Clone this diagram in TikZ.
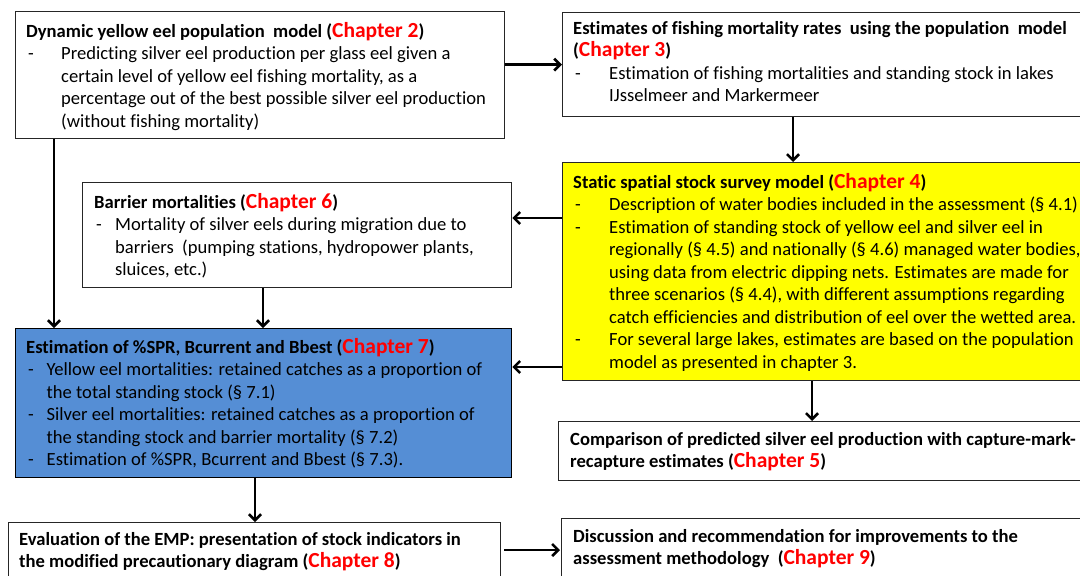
\documentclass[tikz,border=0pt]{standalone}
\usepackage{fontspec}
\setmainfont{Carlito}[Ligatures=NoCommon]
\usetikzlibrary{arrows.meta}
\definecolor{chapred}{HTML}{FF0000}
\definecolor{boxyellow}{HTML}{FFFF00}
\definecolor{boxblue}{HTML}{558ED5}
\newlength\ind
\newcommand\chap[1]{{\fontsize{21.5}{22.5}\selectfont\color{chapred}Chapter #1}}
\newcommand\itm[1]{\par\noindent\hangindent=\ind\hangafter=1\makebox[\ind][l]{\hspace{2pt}-}#1}
\newcommand\bxtext[3]{\parbox[t]{#1}{\fontsize{18.6}{22.5}\selectfont\raggedright\parindent0pt\setlength\ind{#2}#3}}
\tikzset{
  box/.style={draw=black!85, line width=1.3pt, anchor=north west, inner sep=0pt, fill=white},
  txt/.style={anchor=base west, inner sep=0pt},
  arr/.style={line width=2.6pt, -{Straight Barb[length=6pt,width=12pt]}},
}
\begin{document}
\begin{tikzpicture}[x=1pt,y=-1pt]
\useasboundingbox (0,0) rectangle (1080,576);
\clip (0,0) rectangle (1080,576);
\fill[white] (0,0) rectangle (1080,576);
% boxes
\node[box, minimum width=489.5pt, minimum height=127pt] (b1) at (14.5,11) {};
\node[box, minimum width=530pt, minimum height=104pt] (b2) at (562,12) {};
\node[box, fill=boxyellow, minimum width=530pt, minimum height=218pt] (b4) at (562,162) {};
\node[box, minimum width=429pt, minimum height=105pt] (b6) at (82,182) {};
\node[box, fill=boxblue, draw=black, minimum width=496.5pt, minimum height=149pt] (b7) at (14.5,328) {};
\node[box, minimum width=540pt, minimum height=59pt] (b5) at (558,421) {};
\node[box, minimum width=492pt, minimum height=70pt] (b8) at (8,522) {};
\node[box, minimum width=540pt, minimum height=70pt] (b9) at (561,518) {};
% texts
\node[txt] (t1) at (26,37) {\bxtext{600pt}{35pt}{\textbf{Dynamic yellow eel population\ \ model (\chap{2})}
\itm{Predicting silver eel production per glass eel given a\newline certain level of yellow eel fishing mortality, as a\newline percentage out of the best possible silver eel production\newline (without fishing mortality)}}};
\node[txt] (t2) at (573,34) {\bxtext{600pt}{36pt}{\textbf{Estimates of fishing mortality rates\ \ using the population\ \ model\newline (\chap{3})}
\itm{Estimation of fishing mortalities and standing stock in lakes\newline IJsselmeer and Markermeer}}};
\node[txt] (t4) at (573,188) {\bxtext{600pt}{36pt}{\textbf{Static spatial stock survey model (\chap{4})}
\itm{Description of water bodies included in the assessment (§ 4.1)}
\itm{Estimation of standing stock of yellow eel and silver eel in\newline regionally (§ 4.5) and nationally (§ 4.6) managed water bodies,\newline using data from electric dipping nets. Estimates are made for\newline three scenarios (§ 4.4), with different assumptions regarding\newline catch efficiencies and distribution of eel over the wetted area.}
\itm{For several large lakes, estimates are based on the population\newline model as presented in chapter 3.}}};
\node[txt] (t6) at (94,208) {\bxtext{600pt}{21pt}{\textbf{Barrier mortalities (\chap{6})}
\itm{Mortality of silver eels during migration due to\newline barriers\ \ (pumping stations, hydropower plants,\newline sluices, etc.)}}};
\node[txt] (t7) at (26,353) {\bxtext{600pt}{20.5pt}{\textbf{Estimation of \%SPR, Bcurrent and Bbest (\chap{7})}
\itm{Yellow eel mortalities: retained catches as a proportion of\newline the total standing stock (§ 7.1)}
\itm{Silver eel mortalities: retained catches as a proportion of\newline the standing stock and barrier mortality (§ 7.2)}
\itm{Estimation of \%SPR, Bcurrent and Bbest (§ 7.3).}}};
\node[txt] (t5) at (570,445) {\bxtext{600pt}{0pt}{\textbf{Comparison of predicted silver eel production with capture-mark-\newline recapture estimates (\chap{5})}}};
\node[txt] (t8) at (19,545) {\bxtext{600pt}{0pt}{\textbf{Evaluation of the EMP: presentation of stock indicators in\newline the modified precautionary diagram (\chap{8})}}};
\node[txt] (t9) at (573,542) {\bxtext{600pt}{0pt}{\textbf{Discussion and recommendation for improvements to the\newline assessment methodology\ \ (\chap{9})}}};
% connectors
\draw[arr] (b1.east |- b2.west) -- (b2.west);
\draw[arr] ([xshift=231pt]b2.south west) -- ([xshift=231pt]b2.south west |- b4.north);
\draw[arr] ([yshift=-56pt]b4.north west) -- ([yshift=-56pt]b4.north west -| b6.east);
\draw[arr] ([yshift=-205pt]b4.north west) -- ([yshift=-205pt]b4.north west -| b7.east);
\draw[arr] ([xshift=39.5pt]b1.south west) -- ([xshift=39.5pt]b1.south west |- b7.north);
\draw[arr] ([xshift=181pt]b6.south west) -- ([xshift=181pt]b6.south west |- b7.north);
\draw[arr] ([xshift=250pt]b4.south west) -- ([xshift=250pt]b4.south west |- b5.north);
\draw[arr] ([xshift=240.5pt]b7.south west) -- ([xshift=240.5pt]b7.south west |- b8.north);
\draw[arr, shorten <=3pt, shorten >=1pt] ([yshift=-28pt]b8.north east) -- ([yshift=-28pt]b8.north east -| b9.west);
\end{tikzpicture}
\end{document}
